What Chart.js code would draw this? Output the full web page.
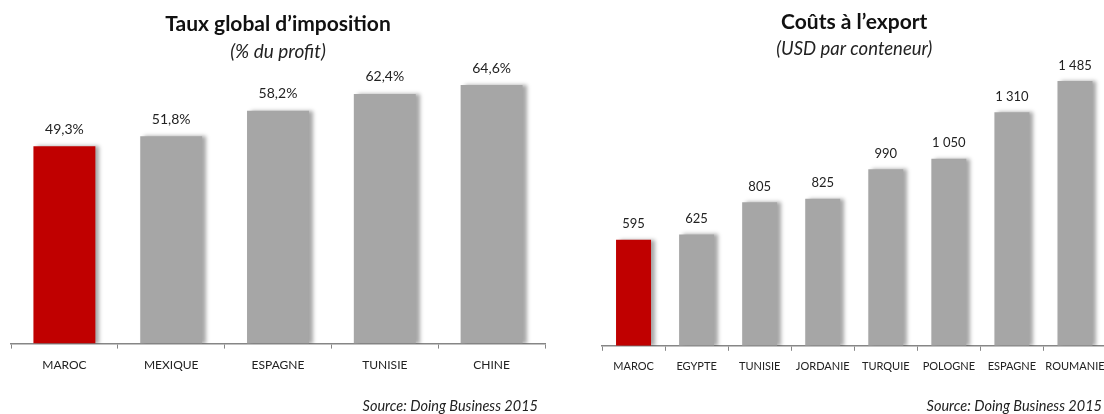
<!DOCTYPE html>
<html>
<head>
<meta charset="utf-8">
<script src="https://cdn.jsdelivr.net/npm/chart.js@4.4.1/dist/chart.umd.min.js"></script>
<style>
  html, body { margin: 0; padding: 0; background: #fff; overflow: hidden; }
  body { width: 1104px; height: 414px; position: relative; }
  .box { position: absolute; top: 0; height: 414px; }
  .source {
    position: absolute; top: 397px; font: italic 14.5px Lato, sans-serif; color: #222;
    white-space: nowrap;
  }
</style>
</head>
<body>
<div class="box" style="left:0;width:560px"><canvas id="taxChart"></canvas></div>
<div class="box" style="left:560px;width:560px"><canvas id="exportChart"></canvas></div>
<div class="source" style="right:566px">Source: Doing Business 2015</div>
<div class="source" style="right:2px">Source: Doing Business 2015</div>

<script>
// Taux global d'imposition (% du profit)
const taxCountries = ["MAROC", "MEXIQUE", "ESPAGNE", "TUNISIE", "CHINE"];
const taxValues = [49.3, 51.8, 58.2, 62.4, 64.6];

// Coûts à l'export (USD par conteneur)
const exportCountries = ["MAROC", "EGYPTE", "TUNISIE", "JORDANIE", "TURQUIE", "POLOGNE", "ESPAGNE", "ROUMANIE"];
const exportValues = [595, 625, 805, 825, 990, 1050, 1310, 1485];

const RED = "#C00000";
const GREY = "#A6A6A6";

function barColors(labels) {
  return labels.map((l) => (l === "MAROC" ? RED : GREY));
}

function fmtPercent(v) {
  return v.toFixed(1).replace(".", ",") + "%";
}

function fmtUsd(v) {
  return String(v).replace(/\B(?=(\d{3})+(?!\d))/g, " ");
}

// ombre portée à droite des barres
const shadowPlugin = {
  id: "barShadow",
  beforeDatasetsDraw(chart) {
    const ctx = chart.ctx;
    ctx.save();
    ctx.shadowColor = "rgba(0,0,0,0.35)";
    ctx.shadowOffsetX = 4;
    ctx.shadowOffsetY = 0;
    ctx.shadowBlur = 4;
  },
  afterDatasetsDraw(chart) {
    chart.ctx.restore();
  },
};

// étiquettes de valeur au-dessus des barres
const valueLabelPlugin = {
  id: "valueLabels",
  afterDraw(chart, args, opts) {
    const ctx = chart.ctx;
    const meta = chart.getDatasetMeta(0);
    const data = chart.data.datasets[0].data;
    ctx.save();
    ctx.font = opts.font;
    ctx.fillStyle = "#222";
    ctx.textAlign = "center";
    ctx.textBaseline = "bottom";
    meta.data.forEach((bar, i) => {
      ctx.fillText(opts.format(data[i]), bar.x, bar.y - opts.gap);
    });
    ctx.restore();
  },
};

function makeChart(id, labels, values, opts) {
  const ctx = document.getElementById(id).getContext("2d");
  return new Chart(ctx, {
    type: "bar",
    data: {
      labels: labels,
      datasets: [
        {
          data: values,
          backgroundColor: barColors(labels),
          borderWidth: 0,
          barPercentage: opts.barPct,
          categoryPercentage: 1,
        },
      ],
    },
    plugins: [shadowPlugin, valueLabelPlugin],
    options: {
      responsive: true,
      maintainAspectRatio: false,
      animation: false,
      layout: { padding: opts.padding },
      plugins: {
        legend: { display: false },
        tooltip: { enabled: false },
        title: {
          display: true,
          text: opts.title,
          color: "#111",
          font: { family: "Lato", size: 21, weight: "bold" },
          padding: { top: 0, bottom: opts.titleGap },
        },
        subtitle: {
          display: true,
          text: opts.subtitle,
          color: "#222",
          font: { family: "Lato", size: opts.subSize, style: "italic" },
          padding: { top: 0, bottom: 2 },
        },
        valueLabels: { font: opts.labelFont, format: opts.format, gap: opts.gap },
      },
      scales: {
        x: {
          grid: {
            offset: true,
            drawOnChartArea: false,
            drawTicks: true,
            tickLength: 5,
            color: "#868686",
          },
          border: { display: true, color: "#868686", width: 1.5 },
          ticks: {
            color: "#222",
            padding: 9,
            maxRotation: 0,
            autoSkip: false,
            font: { family: "Lato", size: opts.tickSize },
          },
        },
        y: {
          display: false,
          min: 0,
          max: opts.max,
        },
      },
    },
  });
}

makeChart("taxChart", taxCountries, taxValues, {
  title: "Taux global d’imposition",
  subtitle: "(% du profit)",
  subSize: 19,
  titleGap: 4,
  max: 69.5,
  barPct: 0.58,
  tickSize: 12,
  labelFont: "14px Lato",
  gap: 10,
  format: fmtPercent,
  padding: { left: 11, right: 15, top: 11.5, bottom: 33 },
});

makeChart("exportChart", exportCountries, exportValues, {
  title: "Coûts à l’export",
  subtitle: "(USD par conteneur)",
  subSize: 18.5,
  titleGap: 3,
  max: 1590,
  barPct: 0.555,
  tickSize: 11,
  labelFont: "13px Lato",
  gap: 9,
  format: fmtUsd,
  padding: { left: 42, right: 13.5, top: 10, bottom: 32 },
});
</script>
</body>
</html>
